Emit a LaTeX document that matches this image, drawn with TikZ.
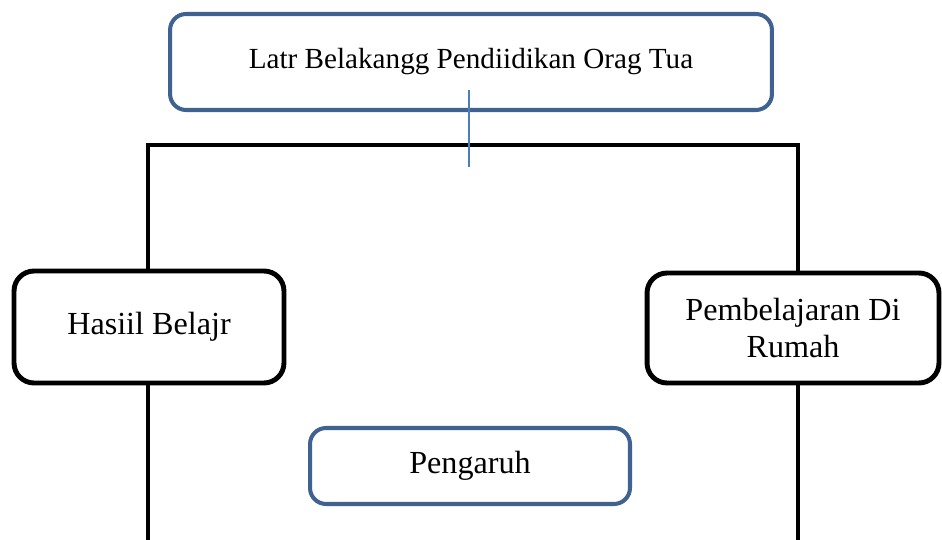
\documentclass[tikz,border=0pt]{standalone}
\usepackage{fontspec}
\setmainfont{Liberation Serif}
\usepackage{tikz}
\usetikzlibrary{positioning}
\definecolor{boxblue}{HTML}{3F6290}
\definecolor{lineblue}{HTML}{4A7EBB}
\begin{document}
\begin{tikzpicture}[x=0.02cm,y=-0.02cm,
  bluebox/.style={draw=boxblue,line width=2.3pt,rounded corners=0.32cm,fill=white,align=center},
  blackbox/.style={draw=black,line width=2.8pt,rounded corners=0.4cm,fill=white,align=center,font=\fontsize{18.3}{21}\selectfont}]
  \useasboundingbox (0,0) rectangle (942,540);
  % frame corners
  \coordinate (tl) at (148,145);
  \coordinate (tr) at (798,145);
  \coordinate (bl) at (148,545);
  \coordinate (br) at (798,545);
  \draw[line width=2.8pt] (bl)--(tl)--(tr)--(br);
  \node[bluebox,minimum width=12.04cm,minimum height=1.92cm,font=\fontsize{16.6}{20}\selectfont] (latar) at (471,62) {Latr Belakangg Pendiidikan Orag Tua};
  \coordinate (mid) at (469,167);
  \draw[lineblue,line width=0.8pt] (469,90)--(mid);
  \node[blackbox,minimum width=5.4cm,minimum height=2.24cm] (hasil) at (149,327) {Hasiil Belajr};
  \node[blackbox,minimum width=5.84cm,minimum height=2.2cm] (rumah) at (793,328) {Pembelajaran Di\\Rumah};
  \node[bluebox,minimum width=6.4cm,minimum height=1.52cm,font=\fontsize{18.3}{21}\selectfont] (pengaruh) at (470,466) {Pengaruh};
\end{tikzpicture}
\end{document}
